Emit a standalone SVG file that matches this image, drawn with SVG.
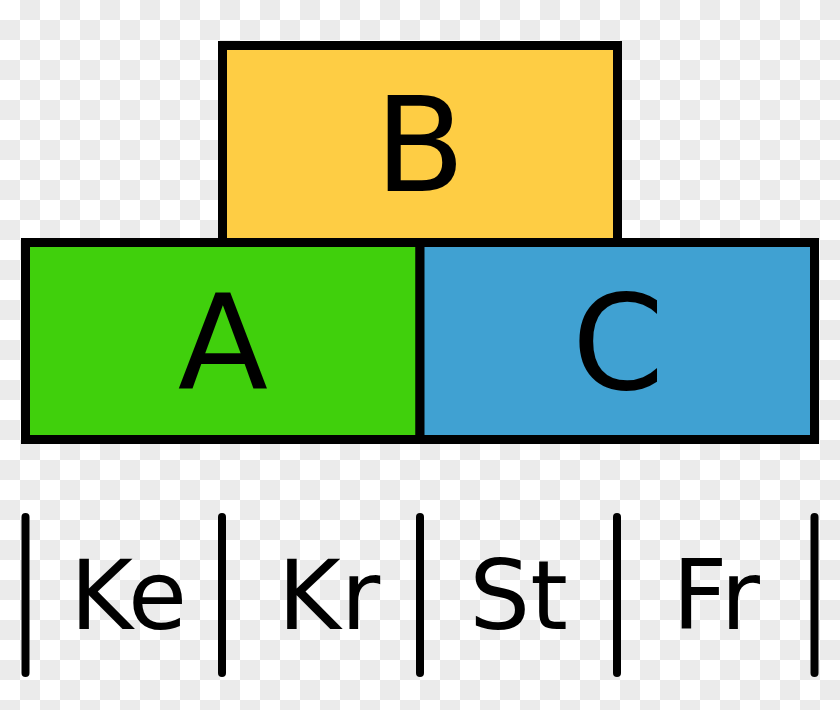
<svg xmlns="http://www.w3.org/2000/svg" width="840" height="710" viewBox="0 0 840 710">
<defs>
<pattern id="checker" x="0" y="0" width="40" height="40" patternUnits="userSpaceOnUse">
<rect x="0" y="0" width="40" height="40" fill="#ffffff"/>
<rect x="20" y="0" width="20" height="20" fill="#ebebeb"/>
<rect x="0" y="20" width="20" height="20" fill="#ebebeb"/>
</pattern>
</defs>
<style>
.box{stroke:#000;stroke-width:9;stroke-linejoin:miter}
.big{font-family:"DejaVu Sans",sans-serif;font-size:132px;fill:#000;text-anchor:middle}
.small{font-family:"DejaVu Sans",sans-serif;font-size:96px;fill:#000;text-anchor:middle}
.bar{stroke:#000;stroke-width:8;stroke-linecap:round}
</style>
<rect x="0" y="0" width="840" height="710" fill="url(#checker)"/>
<g id="nodeB">
<rect class="box" x="222.5" y="45.5" width="395" height="197" fill="#fecd44"/>
<text class="big" x="420" y="191">B</text>
</g>
<g id="nodeA">
<rect class="box" x="25.5" y="242.5" width="394.5" height="197" fill="#40d00c"/>
<text class="big" x="223" y="389">A</text>
</g>
<g id="nodeC">
<rect class="box" x="420" y="242.5" width="394.5" height="197" fill="#40a1d2"/>
<text class="big" x="618" y="389">C</text>
</g>
<g id="connectors">
<line class="bar" x1="25.5" y1="517" x2="25.5" y2="673"/>
<line class="bar" x1="222" y1="517" x2="222" y2="673"/>
<line class="bar" x1="420" y1="517" x2="420" y2="673"/>
<line class="bar" x1="617" y1="517" x2="617" y2="673"/>
<line class="bar" x1="814.5" y1="517" x2="814.5" y2="673"/>
</g>
<g id="labels">
<text class="small" x="128.5" y="629">Ke</text>
<text class="small" x="329" y="629">Kr</text>
<text class="small" x="518.5" y="629">St</text>
<text class="small" x="716" y="629">Fr</text>
</g>
</svg>
